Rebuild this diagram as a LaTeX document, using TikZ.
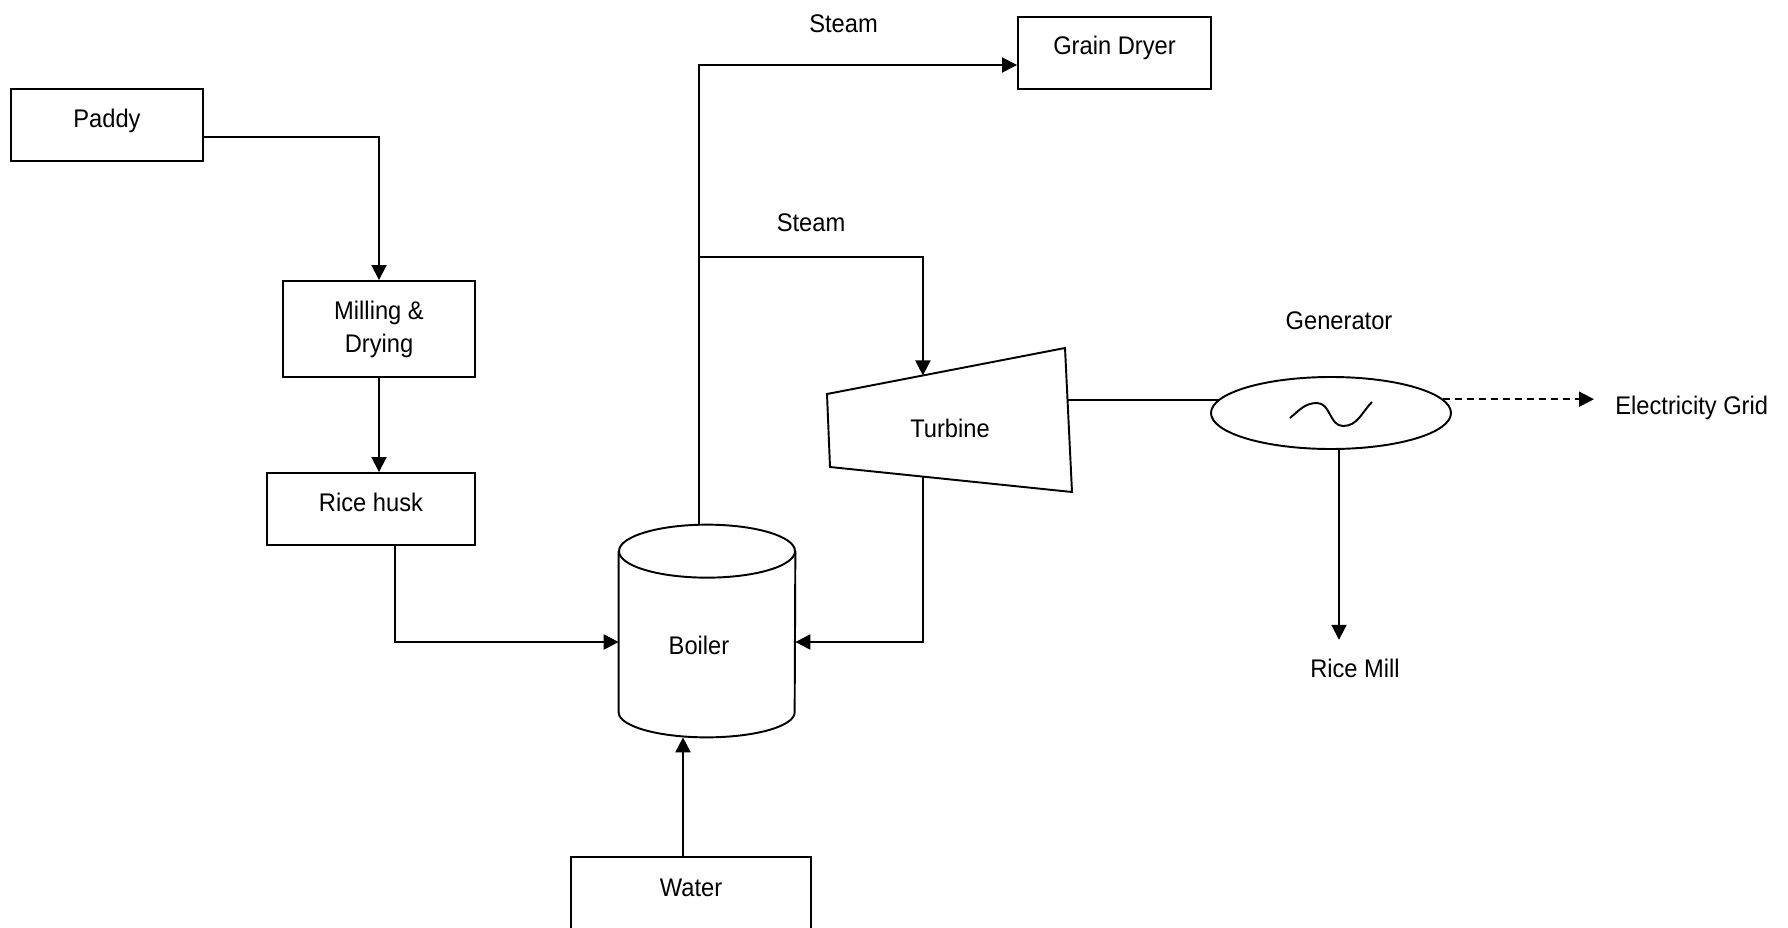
\documentclass[tikz,border=0pt]{standalone}
\usepackage{fontspec}
\setmainfont{Liberation Sans}[FakeStretch=0.93]
\usetikzlibrary{shapes.geometric,arrows.meta,positioning,calc}
\tikzset{
  bloco/.style={rectangle, draw, line width=1.1pt, minimum height=1.44cm,
                align=center, text height=0.36cm, text depth=0.28cm},
  bloco2/.style={rectangle, draw, line width=1.1pt, minimum height=1.92cm,
                 align=center},
  gerador/.style={ellipse, draw, line width=1.1pt, minimum width=4.8cm,
                  minimum height=1.44cm},
  linha/.style={line width=1.1pt},
  seta/.style={-{Triangle[length=0.3cm,width=0.3cm]}, line width=1.1pt},
  setatracejada/.style={seta, dash pattern=on 0.14cm off 0.1cm},
}

\begin{document}
\begin{tikzpicture}[font=\fontsize{14.5pt}{18.7pt}\selectfont]
  \useasboundingbox (0,0) rectangle (35.76,-18.56);

  \node[bloco, minimum width=3.84cm] (pd) at (2.14,-2.50) {Paddy};
  \node[bloco2, minimum width=3.84cm] (md) at (7.58,-6.58) {Milling \&\\Drying};
  \node[bloco, minimum width=4.16cm] (rh) at (7.42,-10.18) {Rice husk};
  \node[bloco, minimum width=3.86cm] (gd) at (22.29,-1.06) {Grain Dryer};
  \node[bloco, minimum width=4.80cm, minimum height=1.5cm] (wa) at (13.82,-17.89) {Water};

  % boiler drum
  \node[minimum width=3.52cm, minimum height=4.24cm, inner sep=0pt] (bo) at (14.14,-12.62) {};
  \draw[linha] ([yshift=-0.53cm]bo.north) ellipse [x radius=1.76cm, y radius=0.53cm];
  \draw[linha] ([yshift=-0.53cm]bo.north west) -- ([yshift=0.5cm]bo.south west)
    arc[start angle=180, end angle=360, x radius=1.76cm, y radius=0.5cm]
    -- ([yshift=-0.53cm]bo.north east);
  \node (bot) at (13.98,-12.90) {Boiler};

  % turbine
  \coordinate (t1) at (16.54,-7.88);
  \coordinate (t2) at (21.30,-6.96);
  \coordinate (t3) at (21.44,-9.84);
  \coordinate (t4) at (16.60,-9.34);
  \draw[linha] (t1) -- (t2) -- (t3) -- (t4) -- cycle;
  \node (tu) at (19.00,-8.56) {Turbine};
  \coordinate (tin) at ($(t1)!0.403!(t2)$);
  \coordinate (tret) at ($(t4)!0.384!(t3)$);
  \coordinate (tout) at ($(t2)!0.36!(t3)$);

  % generator
  \node[gerador] (ge) at (26.62,-8.26) {};
  \draw[linha] ([shift={(-0.82,-0.10)}]ge.center) to[out=40,in=180]
    ([shift={(-0.28,0.20)}]ge.center) to[out=0,in=180]
    ([shift={(0.24,-0.26)}]ge.center) to[out=0,in=225]
    ([shift={(0.82,0.22)}]ge.center);
  \node[above=0.81cm of ge, xshift=0.16cm] (gel) {Generator};
  \node[anchor=west, inner xsep=0.42cm] (eg) at (31.88,-8.16) {Electricity Grid};
  \node[inner ysep=0.37cm] (rm) at (27.10,-13.36) {Rice Mill};

  \node (s1) at (16.87,-0.48) {Steam};
  \node (s2) at (16.22,-4.46) {Steam};
  \coordinate (junc) at (13.98,-5.14);

  \draw[seta] ([yshift=-0.24cm]pd.east) -| (md.north);
  \draw[seta] (md.south) -- (md.south |- rh.north);
  \draw[seta] ([xshift=0.48cm]rh.south) |- ([yshift=-0.22cm]bo.west);
  \draw[seta] ([xshift=-0.16cm]wa.north) -- ([xshift=-0.16cm]wa.north |- bo.south);
  \draw[seta] ([xshift=-0.16cm]bo.north) |- ([yshift=-0.24cm]gd.west);
  \draw[seta] (junc) -| (tin);
  \draw[seta] (tret) |- ([yshift=-0.22cm]bo.east);
  \draw[linha] (tout) -- (ge.173 |- tout);
  \draw[setatracejada] (ge.7) -- (ge.7 -| eg.west);
  \draw[seta] ([xshift=0.16cm]ge.south) -- ([xshift=0.16cm]ge.south |- rm.north);
\end{tikzpicture}
\end{document}
